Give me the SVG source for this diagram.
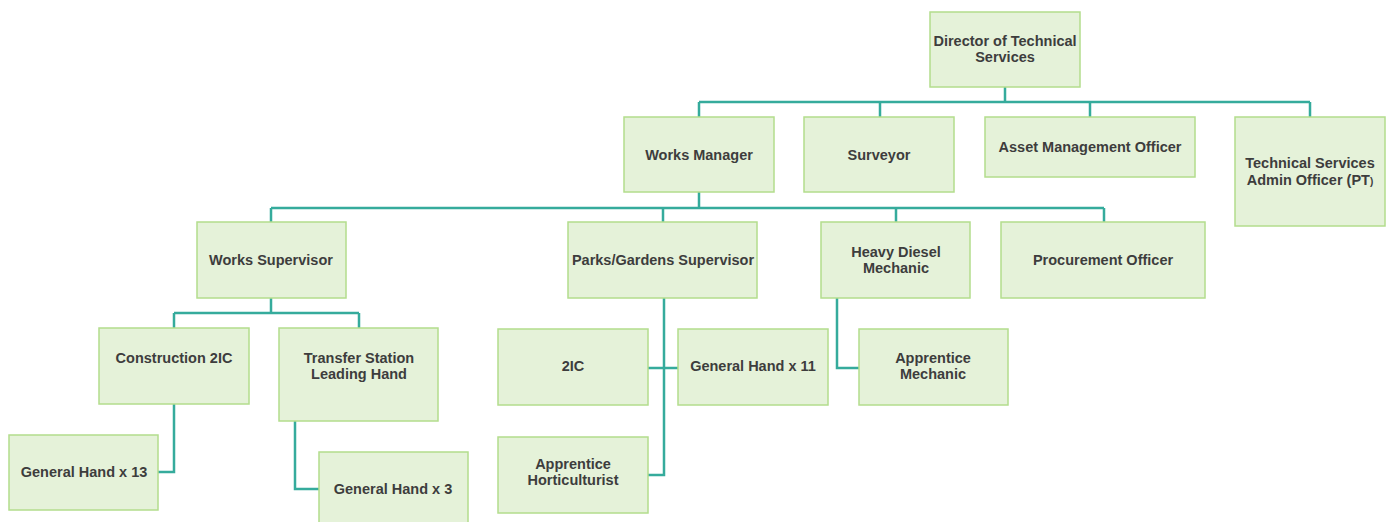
<svg xmlns="http://www.w3.org/2000/svg" width="1390" height="522" viewBox="0 0 1390 522">
<style>
.box{fill:#e5f2d9;stroke:#b3dd8c;stroke-width:1.5}
.t{font-family:"Liberation Sans",Arial,sans-serif;font-weight:bold;font-size:14.5px;fill:#3d3d3d;text-anchor:middle}
.c{fill:none;stroke:#35ab9c;stroke-width:2.5}
</style>
<rect width="1390" height="522" fill="#ffffff"/>
<g id="connectors">
<path class="c" d="M1005 87V102M699 102H1310M699 102V117M880 102V117M1090 102V117M1310 102V117"/>
<path class="c" d="M699 192V208M271 208H1104M271 208V222M663 208V222M896 208V222M1104 208V222"/>
<path class="c" d="M271 298V313M174 313H359M174 313V328M359 313V328"/>
<path class="c" d="M174 404V472H158"/>
<path class="c" d="M295 421V489H319"/>
<path class="c" d="M664 298V475H648M648 368H678"/>
<path class="c" d="M837 298V368H859"/>
</g>
<g id="director"><rect class="box" x="930" y="12" width="150" height="75"/><text class="t" x="1005" y="46">Director of Technical</text><text class="t" x="1005" y="62">Services</text></g>
<g id="works-manager"><rect class="box" x="624" y="117" width="150" height="75"/><text class="t" x="699" y="160">Works Manager</text></g>
<g id="surveyor"><rect class="box" x="804" y="117" width="150" height="75"/><text class="t" x="879" y="160">Surveyor</text></g>
<g id="asset-management-officer"><rect class="box" x="985" y="117" width="210" height="60"/><text class="t" x="1090" y="152">Asset Management Officer</text></g>
<g id="admin-officer"><rect class="box" x="1235" y="117" width="150" height="109"/><text class="t" x="1310" y="168">Technical Services</text><text class="t" x="1310" y="185">Admin Officer (PT<tspan font-size="10">)</tspan></text></g>
<g id="works-supervisor"><rect class="box" x="197" y="222" width="149" height="76"/><text class="t" x="271" y="265">Works Supervisor</text></g>
<g id="parks-supervisor"><rect class="box" x="568" y="222" width="189" height="76"/><text class="t" x="663" y="265">Parks/Gardens Supervisor</text></g>
<g id="heavy-diesel-mechanic"><rect class="box" x="821" y="222" width="149" height="76"/><text class="t" x="896" y="257">Heavy Diesel</text><text class="t" x="896" y="273">Mechanic</text></g>
<g id="procurement-officer"><rect class="box" x="1001" y="222" width="204" height="76"/><text class="t" x="1103" y="265">Procurement Officer</text></g>
<g id="construction-2ic"><rect class="box" x="99" y="328" width="150" height="76"/><text class="t" x="174" y="363">Construction 2IC</text></g>
<g id="transfer-station"><rect class="box" x="279" y="328" width="159" height="93"/><text class="t" x="359" y="363">Transfer Station</text><text class="t" x="359" y="379">Leading Hand</text></g>
<g id="general-hand-13"><rect class="box" x="9" y="435" width="149" height="75"/><text class="t" x="84" y="477">General Hand x 13</text></g>
<g id="general-hand-3"><rect class="box" x="319" y="452" width="149" height="80"/><text class="t" x="393" y="494">General Hand x 3</text></g>
<g id="parks-2ic"><rect class="box" x="498" y="329" width="150" height="76"/><text class="t" x="573" y="371">2IC</text></g>
<g id="general-hand-11"><rect class="box" x="678" y="329" width="150" height="76"/><text class="t" x="753" y="371">General Hand x 11</text></g>
<g id="apprentice-horticulturist"><rect class="box" x="498" y="437" width="150" height="76"/><text class="t" x="573" y="469">Apprentice</text><text class="t" x="573" y="485">Horticulturist</text></g>
<g id="apprentice-mechanic"><rect class="box" x="859" y="329" width="149" height="76"/><text class="t" x="933" y="363">Apprentice</text><text class="t" x="933" y="379">Mechanic</text></g>
</svg>
